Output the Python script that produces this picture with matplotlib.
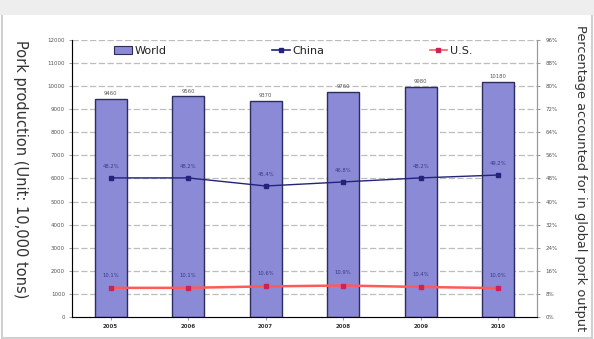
import matplotlib
matplotlib.use('Agg')
import matplotlib.pyplot as plt
from matplotlib.patches import Rectangle
from matplotlib.lines import Line2D
import numpy as np

# production mondiale (10 000 t) et parts de la Chine / des USA (%)
years = ["2005", "2006", "2007", "2008", "2009", "2010"]
world = [9460, 9560, 9370, 9760, 9980, 10180]
china_pct = [48.2, 48.2, 45.4, 46.8, 48.2, 49.2]
us_pct = [10.1, 10.1, 10.6, 10.9, 10.4, 10.0]

left_ticks = list(range(0, 13000, 1000))
right_ticks = list(range(0, 97, 8))

BAR = "#8a8ad6"
BAR_EDGE = "#2c2c5e"
CHINA = "#23237a"
US = "#ff5a5a"
TXT = "#555555"


def main():
    fig = plt.figure(figsize=(5.94, 3.39), dpi=100)
    fig.patch.set_facecolor("white")

    # cadre gris clair autour de l'image
    fig.patches.append(Rectangle((0.004, 0.004), 0.992, 0.96, transform=fig.transFigure,
                                 fill=False, edgecolor="#d0d0d0", linewidth=1.5))
    fig.patches.append(Rectangle((0, 0.955), 1, 0.045, transform=fig.transFigure,
                                 facecolor="#eeeeee", edgecolor="none"))

    ax = fig.add_axes([0.121, 0.065, 0.783, 0.817])
    x = np.arange(len(years))

    for t in left_ticks[1:]:
        ax.axhline(t, color="#bdbdbd", linewidth=0.9, linestyle=(0, (5, 2)), zorder=0)

    ax.bar(x, world, width=0.41, color=BAR, edgecolor=BAR_EDGE, linewidth=1.0, zorder=2)
    for xi, v in zip(x, world):
        ax.text(xi, v + 120, str(v), ha="center", va="bottom", fontsize=3.8, color=TXT, zorder=5)

    ax.set_xlim(-0.5, len(years) - 0.5)
    ax.set_ylim(0, 12000)
    ax.set_yticks(left_ticks)
    ax.set_yticklabels([str(t) for t in left_ticks], fontsize=4, color=TXT)
    ax.set_xticks(x)
    ax.set_xticklabels(years, fontsize=4, color="#333333", fontweight="bold")
    ax.tick_params(axis="both", length=2, width=0.6, color="#888888", pad=3)
    ax.spines["top"].set_visible(False)
    for s in ["left", "right", "bottom"]:
        ax.spines[s].set_color("#999999")
        ax.spines[s].set_linewidth(0.8)

    ax2 = ax.twinx()
    ax2.set_ylim(0, 96)
    ax2.plot(x, china_pct, color=CHINA, linewidth=1.0, marker="s", markersize=3, zorder=4)
    ax2.plot(x, us_pct, color=US, linewidth=1.8, marker="s", markersize=2.5,
             markerfacecolor="#cc2255", markeredgecolor="#cc2255", zorder=4)
    for xi, v in zip(x, china_pct):
        ax2.text(xi, v + 3.2, "{:.1f}%".format(v), ha="center", va="bottom", fontsize=3.8,
                 color="#3a3a8a")
    for xi, v in zip(x, us_pct):
        ax2.text(xi, v + 3.5, "{:.1f}%".format(v), ha="center", va="bottom", fontsize=3.8,
                 color="#3a3a8a")

    ax2.set_yticks(right_ticks)
    ax2.set_yticklabels(["{}%".format(t) for t in right_ticks], fontsize=4, color=TXT)
    ax2.tick_params(axis="y", length=2, width=0.6, color="#888888", pad=4)
    ax2.spines["top"].set_visible(False)
    ax2.spines["right"].set_color("#999999")
    ax2.spines["right"].set_linewidth(0.8)

    # titres des axes, écrits de haut en bas
    fig.text(0.034, 0.50, "Pork production (Unit: 10,000 tons)", rotation=270,
             ha="center", va="center", fontsize=10.5, color="#333333")
    fig.text(0.978, 0.475, "Percentage accounted for in global pork output", rotation=270,
             ha="center", va="center", fontsize=9.3, color="#333333")

    handles = [
        Rectangle((0, 0), 1, 1, facecolor=BAR, edgecolor=BAR_EDGE, linewidth=0.8),
        Line2D([], [], color=CHINA, linewidth=1.2, marker="s", markersize=3),
        Line2D([], [], color=US, linewidth=1.2, marker="s", markersize=2.5,
               markerfacecolor="#cc2255", markeredgecolor="#cc2255"),
    ]
    leg = ax.legend(handles, ["World", "China", "U.S."], loc="upper left", ncol=3,
                    frameon=False, fontsize=8, handlelength=1.6, handletextpad=0.2,
                    columnspacing=9.5, bbox_to_anchor=(0.07, 1.015))
    for t in leg.get_texts():
        t.set_color("#222222")

    fig.savefig("out.png", dpi=100)


if __name__ == "__main__":
    main()
